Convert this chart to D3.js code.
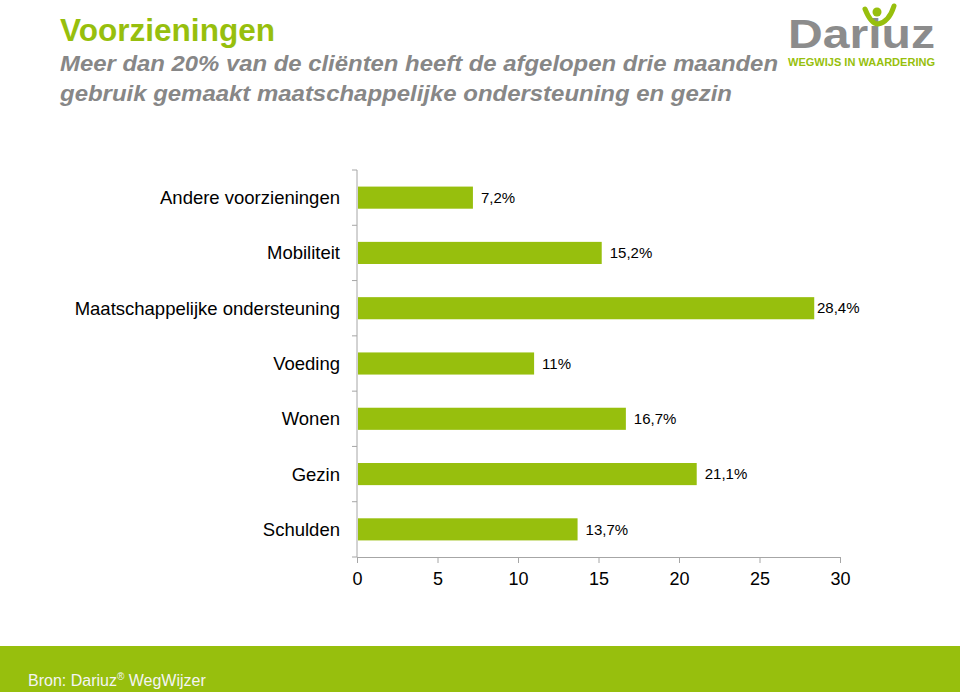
<!DOCTYPE html>
<html><head><meta charset="utf-8">
<script src="https://cdn.jsdelivr.net/npm/d3@7"></script>
<style>body{margin:0;background:#fff}svg{display:block;font-family:Arial,"Liberation Sans",sans-serif}</style>
</head><body><svg id="c" width="960" height="692"></svg>
<script>
const categories = ["Andere voorzieningen","Mobiliteit","Maatschappelijke ondersteuning","Voeding","Wonen","Gezin","Schulden"];
const values = [7.2, 15.2, 28.4, 11, 16.7, 21.1, 13.7];
const valueLabels = ["7,2%","15,2%","28,4%","11%","16,7%","21,1%","13,7%"];
const xTicks = [0,5,10,15,20,25,30];

const green = "#97bf0d";
const svg = d3.select("#c");

// Title
svg.append("text").attr("x",60).attr("y",41).attr("fill",green).attr("font-size",31).attr("font-weight","bold").attr("textLength",215).attr("lengthAdjust","spacingAndGlyphs").text("Voorzieningen");
const sub = ["Meer dan 20% van de cliënten heeft de afgelopen drie maanden","gebruik gemaakt maatschappelijke ondersteuning en gezin"];
const subW = [718, 672];
sub.forEach((s,i)=>svg.append("text").attr("x",60).attr("y",71+i*30).attr("fill","#878787").attr("font-size",22).attr("font-style","italic").attr("font-weight","bold").attr("textLength",subW[i]).attr("lengthAdjust","spacingAndGlyphs").text(s));

// Logo
const logo = svg.append("g");
logo.append("g").attr("transform","translate(788,48) scale(1,1.1)")
  .append("text").attr("x",0).attr("y",0).attr("fill","#8c8c8c").attr("font-size",37).attr("font-weight","bold").attr("textLength",147).attr("lengthAdjust","spacingAndGlyphs").text("Dariuz");
logo.append("circle").attr("cx",877).attr("cy",12).attr("r",4.5).attr("fill",green);
logo.append("path").attr("d","M865,9 Q871,24 878,24 Q889,22 894,6").attr("fill","none").attr("stroke",green).attr("stroke-width",5).attr("stroke-linecap","round");
logo.append("text").attr("x",788).attr("y",66).attr("fill",green).attr("font-size",10).attr("font-weight","bold").attr("textLength",147).attr("lengthAdjust","spacingAndGlyphs").text("WEGWIJS IN WAARDERING");

// Chart
const x = d3.scaleLinear().domain([0,30]).range([357,840]);
const y = d3.scaleBand().domain(categories).range([170,557]).paddingInner(0.6).paddingOuter(0.3);

const gx = svg.append("g").attr("transform","translate(0,557)")
  .call(d3.axisBottom(x).tickValues(xTicks).tickSize(6).tickSizeOuter(0).tickPadding(9));
gx.select(".domain").attr("stroke","#a6a6a6");
gx.selectAll(".tick line").attr("stroke","#a6a6a6");
gx.selectAll(".tick text").attr("font-size",18).attr("fill","#000").attr("font-family","Arial,'Liberation Sans',sans-serif");

// y axis line and boundary ticks
svg.append("line").attr("x1",357).attr("x2",357).attr("y1",170).attr("y2",557).attr("stroke","#a6a6a6");
d3.range(categories.length+1).forEach(i=>{
  const yy = 170 + i*(387/categories.length);
  svg.append("line").attr("x1",352).attr("x2",357).attr("y1",yy).attr("y2",yy).attr("stroke","#a6a6a6");
});

svg.selectAll("rect.bar").data(values).enter().append("rect").attr("class","bar")
  .attr("x",x(0)+1).attr("y",(d,i)=>y(categories[i]))
  .attr("width",d=>x(d)-x(0)-1).attr("height",y.bandwidth()).attr("fill",green);

svg.selectAll("text.cat").data(categories).enter().append("text").attr("class","cat")
  .attr("x",340).attr("y",d=>y(d)+y.bandwidth()/2).attr("dy","0.35em").attr("text-anchor","end")
  .attr("font-size",18.5).attr("fill","#000").text(d=>d);

svg.selectAll("text.val").data(values).enter().append("text").attr("class","val")
  .attr("x",d=>Math.min(x(d)+8, 817)).attr("y",(d,i)=>y(categories[i])+y.bandwidth()/2).attr("dy","0.35em")
  .attr("font-size",15).attr("fill","#000").text((d,i)=>valueLabels[i]);

// Footer
svg.append("rect").attr("x",0).attr("y",646).attr("width",960).attr("height",46).attr("fill",green);
const ft = svg.append("text").attr("x",28).attr("y",686).attr("fill","#f4f4f4").attr("font-size",16);
ft.append("tspan").text("Bron: Dariuz");
ft.append("tspan").attr("dy",-6).attr("font-size",10).text("®");
ft.append("tspan").attr("dy",6).text(" WegWijzer");
</script></body></html>
